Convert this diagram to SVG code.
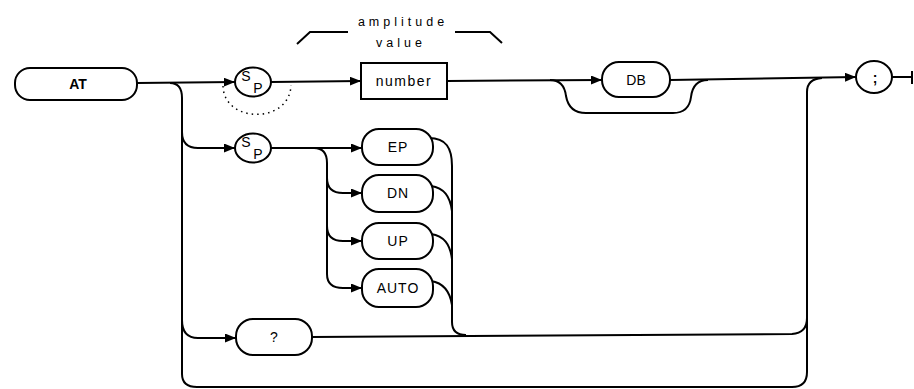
<svg xmlns="http://www.w3.org/2000/svg" width="914" height="389" viewBox="0 0 914 389">
<defs>
<marker id="ah" markerUnits="userSpaceOnUse" markerWidth="12" markerHeight="10" refX="11" refY="4.5" orient="auto">
<path d="M0,0 L11,4.5 L0,9 z" fill="#000"/>
</marker>
<style>
.n{fill:#fff;stroke:#000;stroke-width:2}
.c{fill:none;stroke:#000;stroke-width:2}
.a{fill:none;stroke:#000;stroke-width:2;marker-end:url(#ah)}
.d{fill:none;stroke:#000;stroke-width:1.5;stroke-dasharray:1.5 4}
.t{font-family:"Liberation Sans",Arial,sans-serif;font-size:14px;text-anchor:middle;fill:#000}
.s{font-family:"Liberation Sans",Arial,sans-serif;font-size:12.5px;text-anchor:middle;fill:#000;letter-spacing:4px}
</style>
</defs>
<rect width="914" height="389" fill="#fff"/>
<g id="connectors">
<path class="a" d="M137,83 L235,82"/>
<path class="c" d="M170,83 Q182,83 182,98 L182,374 Q182,387 197,387 L792,387 Q807,387 807,372 L807,92 Q807,79 822,78"/>
<path class="a" d="M182,132 Q182,148 198,148 L235,148"/>
<path class="a" d="M182,320 Q182,338 198,338 L236,338"/>
<path class="a" d="M271,82 L361,81"/>
<path class="d" d="M223,86 C224,124 290,124 291,85"/>
<path class="a" d="M447,81 L602,80"/>
<path class="c" d="M550,80 Q564,80 566,96 Q569,113 586,113 L673,113 Q689,113 691,97 Q693,80 708,80"/>
<path class="a" d="M670,80 L856,77"/>
<path class="c" d="M892,77 L912,77 M912,71 L912,84"/>
<path class="a" d="M271,148 L362,148"/>
<path class="a" d="M314,148 Q327,148 327,163 L327,274 Q327,288 343,288 L362,288"/>
<path class="a" d="M327,178 Q327,193 343,193 L362,193"/>
<path class="a" d="M327,226 Q327,241 343,241 L362,241"/>
<path class="c" d="M429,138 C446,138 452,148 452,166 L452,322 Q452,335 466,335"/>
<path class="c" d="M431,186 C444,188 450,196 452,211"/>
<path class="c" d="M431,234 C444,236 450,244 452,259"/>
<path class="c" d="M431,281 C444,283 450,292 452,305"/>
<path class="c" d="M312,337 L792,334 Q807,333 807,318"/>
<path class="c" d="M297,44 L310,32 L348,32 M455,32 L490,32 L502,43"/>
</g>
<g id="label-amplitude">
<text class="s" x="403" y="26">amplitude</text>
<text class="s" x="401" y="47">value</text>
</g>
<g id="node-AT">
<rect class="n" x="15" y="68" width="122" height="32" rx="15"/>
<text class="t" x="78" y="89" font-weight="bold" font-size="15">AT</text>
</g>
<g id="node-sp1">
<ellipse class="n" cx="253" cy="82" rx="18" ry="14.5"/>
<text class="t" x="246" y="81" font-size="15">S</text>
<text class="t" x="258" y="93" font-size="13">P</text>
</g>
<g id="node-number">
<rect class="n" x="361" y="63" width="86" height="36"/>
<text class="t" x="404" y="86" letter-spacing="1.5">number</text>
</g>
<g id="node-DB">
<rect class="n" x="602" y="62" width="68" height="35" rx="17"/>
<text class="t" x="636" y="85">DB</text>
</g>
<g id="node-semicolon">
<ellipse class="n" cx="874" cy="77" rx="18" ry="16"/>
<text class="t" x="875" y="83" font-size="18" font-weight="bold">;</text>
</g>
<g id="node-sp2">
<ellipse class="n" cx="253" cy="148" rx="18" ry="14.5"/>
<text class="t" x="246" y="147" font-size="15">S</text>
<text class="t" x="258" y="159" font-size="13">P</text>
</g>
<g id="node-EP">
<rect class="n" x="362" y="129" width="71" height="36" rx="17"/>
<text class="t" x="398" y="152" letter-spacing="1">EP</text>
</g>
<g id="node-DN">
<rect class="n" x="362" y="175" width="71" height="37" rx="17"/>
<text class="t" x="398" y="198" letter-spacing="1">DN</text>
</g>
<g id="node-UP">
<rect class="n" x="362" y="223" width="71" height="36" rx="17"/>
<text class="t" x="398" y="246" letter-spacing="1">UP</text>
</g>
<g id="node-AUTO">
<rect class="n" x="362" y="269" width="71" height="38" rx="17"/>
<text class="t" x="398" y="293" letter-spacing="1">AUTO</text>
</g>
<g id="node-query">
<rect class="n" x="236" y="319" width="76" height="36" rx="17"/>
<text class="t" x="274" y="342">?</text>
</g>
</svg>
